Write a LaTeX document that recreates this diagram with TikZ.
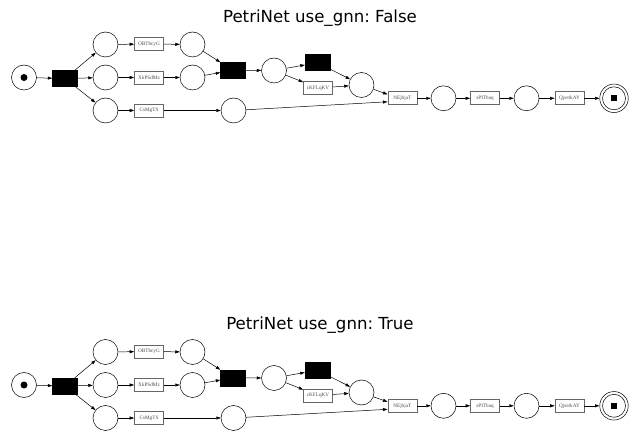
\documentclass[tikz,border=0pt]{standalone}
\usepackage{fontspec}
\setmainfont{Liberation Serif}
\newfontfamily\titlefont{DejaVu Sans}
\usetikzlibrary{arrows.meta}
\frenchspacing

\tikzset{
    place/.style={draw, circle, minimum size=25pt, inner sep=0pt, line width=0.5pt},
    trans/.style={draw, fill=black, minimum width=25pt, minimum height=16pt, inner sep=0pt},
    lbl/.style={draw=black!60, line width=0.6pt, minimum width=29pt, minimum height=13pt, inner sep=1pt,
        text=black!70, font=\fontsize{5.2}{6}\selectfont},
    arc/.style={-{Triangle[length=4.5pt,width=3pt]}, line width=0.5pt}
}

\begin{document}
\begin{tikzpicture}[x=1pt,y=-1pt]
    \useasboundingbox (0,0) rectangle (640,443);
    \foreach \yo/\ttl in {0/False,307.5/True} {
        \node [font=\titlefont\fontsize{16.6}{19}\selectfont] (title\ttl) at (320,18+\yo) {PetriNet use\_gnn: \ttl};
        % places and transitions
        \node [place] (s\ttl) at (24,77.5+\yo) {};
        \node [fill, circle, minimum size=7pt, inner sep=0pt] (tok\ttl) at (s\ttl) {};
        \node [trans] (ta\ttl) at (65,78.5+\yo) {};
        \node [place] (pa\ttl) at (105.5,44.5+\yo) {};
        \node [place] (pb\ttl) at (105.5,77.5+\yo) {};
        \node [place] (pc\ttl) at (105.5,110.5+\yo) {};
        \node [lbl] (obt\ttl) at (149,44+\yo) {OBTbcyG};
        \node [lbl] (xkp\ttl) at (149,77.5+\yo) {XkPSdMz};
        \node [lbl] (csm\ttl) at (149,110.5+\yo) {CsMgTS};
        \node [place] (pd\ttl) at (192.5,44.5+\yo) {};
        \node [place] (pe\ttl) at (192.5,77.5+\yo) {};
        \node [trans] (tb\ttl) at (233,70.3+\yo) {};
        \node [place] (pf\ttl) at (233.5,110.5+\yo) {};
        \node [place] (pg\ttl) at (274,70.5+\yo) {};
        \node [trans] (tc\ttl) at (317.5,62.7+\yo) {};
        \node [lbl] (ckf\ttl) at (318,88+\yo) {cKFLqKV};
        \node [place] (ph\ttl) at (361.5,85+\yo) {};
        \node [lbl] (nej\ttl) at (402.3,98.3+\yo) {NEjbjaT};
        \node [place] (pi\ttl) at (443.5,98.3+\yo) {};
        \node [lbl] (spi\ttl) at (485,98.3+\yo) {sPITbaq};
        \node [place] (pj\ttl) at (526.5,98.3+\yo) {};
        \node [lbl] (qjs\ttl) at (569.5,98.3+\yo) {QjsetkAY};
        \node [place, minimum size=28.5pt] (e\ttl) at (614,98.3+\yo) {};
        \draw [line width=0.5pt] (e\ttl.center) circle [radius=11.5];
        \node [fill, minimum size=6pt, inner sep=0pt] (sq\ttl) at (e\ttl) {};
        % arcs
        \draw [arc] (s\ttl) -- (ta\ttl);
        \foreach \p in {pa,pb,pc} \draw [arc] (ta\ttl) -- (\p\ttl);
        \draw [arc] (pa\ttl) -- (obt\ttl);
        \draw [arc] (obt\ttl) -- (pd\ttl);
        \draw [arc] (pb\ttl) -- (xkp\ttl);
        \draw [arc] (xkp\ttl) -- (pe\ttl);
        \draw [arc] (pc\ttl) -- (csm\ttl);
        \draw [arc] (csm\ttl) -- (pf\ttl);
        \draw [arc] (pd\ttl) -- (tb\ttl);
        \draw [arc] (pe\ttl) -- (tb\ttl);
        \draw [arc] (tb\ttl) -- (pg\ttl);
        \draw [arc] (pg\ttl) -- (tc\ttl);
        \draw [arc] (pg\ttl) -- (ckf\ttl);
        \draw [arc] (tc\ttl) -- (ph\ttl);
        \draw [arc] (ckf\ttl) -- (ph\ttl);
        \draw [arc] (ph\ttl) -- ([yshift=4pt]nej\ttl.west);
        \draw [arc] (pf\ttl) -- ([yshift=-3.5pt]nej\ttl.west);
        \draw [arc] (nej\ttl) -- (pi\ttl);
        \draw [arc] (pi\ttl) -- (spi\ttl);
        \draw [arc] (spi\ttl) -- (pj\ttl);
        \draw [arc] (pj\ttl) -- (qjs\ttl);
        \draw [arc] (qjs\ttl) -- (e\ttl);
    }
\end{tikzpicture}
\end{document}
